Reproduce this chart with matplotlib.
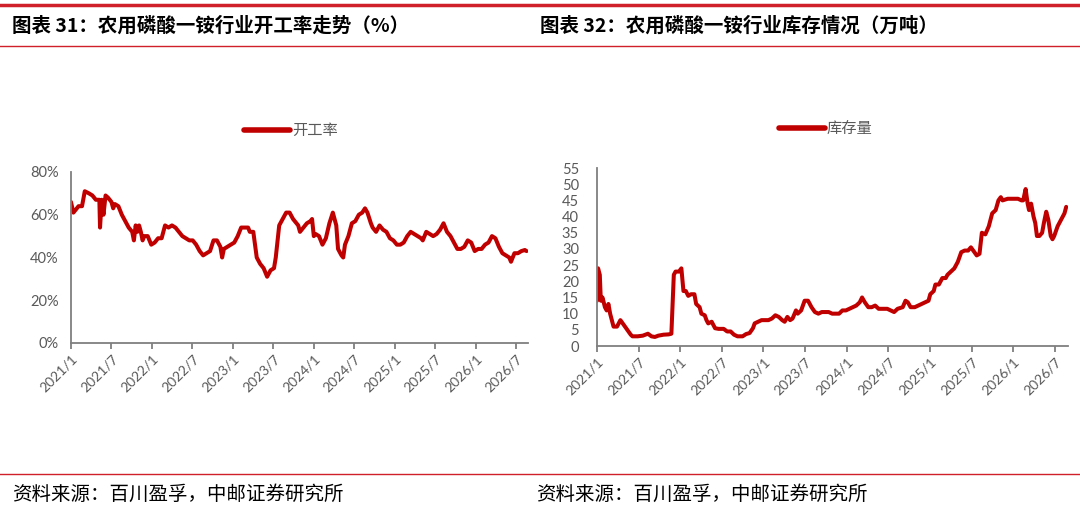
import matplotlib
matplotlib.use("Agg")
import matplotlib.pyplot as plt
from matplotlib.lines import Line2D

plt.rcParams["font.family"] = ["Lato", "Noto Sans CJK SC", "DejaVu Sans"]

RED = "#c00000"
GRAY = "#595959"

# x positions are months since 2021/1
tick_pos = [0, 6, 12, 18, 24, 30, 36, 42, 48, 54, 60, 66]
tick_labels = ["2021/1", "2021/7", "2022/1", "2022/7", "2023/1", "2023/7",
               "2024/1", "2024/7", "2025/1", "2025/7", "2026/1", "2026/7"]

# 开工率 (%)
rate_m = [0, 0.36, 0.87, 1.13, 1.64, 2.05, 2.67, 3.18, 3.69, 4.21, 4.31, 4.56,
          4.82, 5.13, 5.49, 6.0, 6.26, 6.51, 7.03, 7.54, 8.05, 8.56, 9.08, 9.33,
          9.59, 9.85, 10.1, 10.36, 10.62, 10.87, 11.38, 11.9, 12.41, 12.92, 13.44,
          13.95, 14.46, 14.97, 15.49, 16.0, 16.51, 17.03, 17.54, 18.05, 18.56,
          19.08, 19.59, 20.1, 20.62, 21.13, 21.64, 22.15, 22.41, 22.67, 23.18,
          23.69, 24.21, 24.72, 25.23, 25.74, 26.26, 26.51, 27.03, 27.54, 28.05,
          28.56, 29.08, 29.59, 30.1, 30.36, 30.87, 31.38, 31.9, 32.41, 32.92,
          33.18, 33.69, 33.95, 34.46, 34.97, 35.49, 35.74, 36.0, 36.26, 36.77,
          37.28, 37.79, 38.31, 38.82, 39.33, 39.59, 40.1, 40.36, 40.62, 41.13,
          41.64, 42.15, 42.67, 43.18, 43.59, 43.95, 44.46, 44.72, 45.23, 45.74,
          46.26, 46.77, 47.28, 47.79, 48.31, 48.82, 49.33, 49.85, 50.36, 50.87,
          51.38, 51.9, 52.15, 52.67, 53.18, 53.69, 54.21, 54.72, 55.23, 55.74,
          56.26, 56.77, 57.28, 57.79, 58.31, 58.82, 59.33, 59.85, 60.36, 60.87,
          61.38, 61.9, 62.41, 62.92, 63.44, 63.95, 64.46, 64.97, 65.23, 65.74,
          66.26, 66.77, 67.28, 67.54]
rate_v = [66, 61, 63, 64, 64, 71, 70, 69, 67, 67, 54, 67,
          60, 69, 68, 66, 63, 65, 64, 60, 57, 54, 52, 48,
          55, 52, 55, 52, 48, 50, 50, 46, 47, 49, 49,
          55, 54, 55, 54, 52, 50, 49, 48, 48, 46,
          43, 41, 42, 43, 48, 48, 45, 40, 44, 45,
          46, 47, 50, 54, 54, 54, 52, 52, 40, 37,
          35, 31, 34, 35, 40, 55, 58, 61, 61, 58,
          57, 55, 52, 54, 56, 57, 58, 50, 51, 50,
          46, 49, 56, 61, 55, 44, 41, 40, 46, 50,
          56, 57, 60, 61, 63, 61, 56, 54, 52, 55,
          53, 52, 49, 48, 46, 46, 47, 50, 52, 51,
          50, 49, 48, 52, 51, 50, 51, 53, 56, 52,
          50, 47, 44, 44, 45, 48, 47, 43, 44, 44,
          46, 47, 50, 49, 45, 42, 41, 40, 38, 42,
          42, 43, 43.5, 43]

# 库存量 (万吨)
stock_m = [0, 0.15, 0.4, 0.55, 0.79, 1.14, 1.39, 1.64, 1.89, 2.13, 2.38, 2.88,
           3.37, 3.87, 4.37, 4.86, 5.11, 5.86, 6.6, 7.34, 7.84, 8.34, 8.83, 9.58,
           10.32, 10.72, 11.07, 11.32, 11.81, 12.16, 12.46, 12.8, 13.15, 13.55,
           14.04, 14.29, 14.79, 15.04, 15.53, 15.78, 16.03, 16.53, 17.02, 17.52,
           18.26, 18.76, 19.26, 19.75, 20.25, 20.99, 21.49, 21.99, 22.48, 22.73,
           23.23, 23.72, 24.22, 24.71, 25.21, 25.71, 26.2, 26.7, 27.05, 27.44,
           27.84, 28.19, 28.68, 28.93, 29.43, 29.93, 30.42, 30.92, 31.41, 31.91,
           32.41, 32.9, 33.4, 33.9, 34.39, 34.89, 35.38, 35.88, 36.38, 36.87,
           37.37, 37.87, 38.21, 38.61, 39.11, 39.6, 40.1, 40.6, 41.09, 41.84,
           42.33, 42.83, 43.33, 44.07, 44.47, 44.81, 45.21, 45.81, 46.3, 46.8,
           47.3, 47.79, 48.04, 48.54, 48.78, 49.28, 49.78, 50.27, 50.52, 51.02,
           51.51, 52.01, 52.51, 53.0, 53.5, 53.9, 54.24, 54.74, 55.14, 55.48,
           55.98, 56.48, 56.97, 57.47, 57.87, 58.21, 58.46, 59.21, 59.95, 60.69,
           61.19, 61.44, 61.79, 62.08, 62.28, 62.58, 62.93, 63.18, 63.42, 63.77,
           64.17, 64.42, 64.76, 65.06, 65.41, 65.66, 65.91, 66.4, 66.9, 67.39,
           67.64]
stock_v = [14, 24, 22, 14, 15, 12, 11, 13, 10, 8, 6, 6,
           8, 6.5, 5, 3.5, 3, 3, 3.2, 3.8, 3, 2.8, 3.2, 3.5,
           3.6, 3.8, 22, 23, 23, 24, 17, 17, 15.5, 16,
           16, 13, 12, 10, 9.5, 8, 7, 7.5, 5.5, 5.3,
           5.3, 4.5, 4.5, 3.5, 3, 3, 3.7, 4, 5.5, 7,
           7.5, 8, 8, 8, 8.5, 9.5, 9, 8, 7.5, 9,
           8, 8.5, 11, 10, 11, 14, 14, 12, 10.5, 10,
           10.5, 10.5, 10.5, 10, 10, 10, 11, 11, 11.5, 12,
           12.5, 13.5, 15, 13.5, 12, 12, 12.5, 11.5, 11.5, 11.5,
           11, 10.5, 11.5, 12, 14, 13.5, 12, 12, 12.5, 13,
           13.5, 14, 16, 17, 19, 19, 21, 21, 22, 23,
           24, 26, 29, 29.5, 29.5, 30.5, 29.5, 28, 28.5, 35,
           34.5, 37, 41, 42, 45, 46, 45, 45.5, 45.5, 45.5,
           45, 45, 48.5, 44, 42, 44, 40, 38, 34, 34,
           35, 38, 41.5, 39, 34, 33, 34, 37, 39, 41,
           43]

fig = plt.figure(figsize=(10.8, 5.14), dpi=100)


def style_axes(ax, ypad):
    for s in ["top", "right"]:
        ax.spines[s].set_visible(False)
    for s in ["left", "bottom"]:
        ax.spines[s].set_color("#7f7f7f")
        ax.spines[s].set_linewidth(1.3)
    ax.set_xticks(tick_pos)
    ax.set_xticklabels(tick_labels, rotation=45, ha="right",
                       rotation_mode="anchor", fontsize=10, color=GRAY)
    ax.tick_params(axis="x", length=4, width=1.3, color="#7f7f7f", pad=3)
    ax.tick_params(axis="y", length=0, labelsize=10.5, labelcolor=GRAY, pad=ypad)


ax1 = fig.add_axes([0.0657, 0.3327, 0.4235, 0.3327])
ax1.plot(rate_m, rate_v, color=RED, linewidth=2.9, solid_joinstyle="round",
         solid_capstyle="round")
ax1.set_xlim(0, 67.8)
ax1.set_ylim(0, 80)
ax1.set_yticks([0, 20, 40, 60, 80])
ax1.set_yticklabels(["0%", "20%", "40%", "60%", "80%"])
style_axes(ax1, 9)

ax2 = fig.add_axes([0.5528, 0.3268, 0.4361, 0.3463])
ax2.plot(stock_m, stock_v, color=RED, linewidth=2.9, solid_joinstyle="round",
         solid_capstyle="round")
ax2.set_xlim(0, 67.9)
ax2.set_ylim(0, 55)
ax2.set_yticks(list(range(0, 56, 5)))
style_axes(ax2, 13)

# legends
h1 = [Line2D([], [], color=RED, linewidth=4, solid_capstyle="round")]
fig.legend(h1, ["开工率"], loc="center", bbox_to_anchor=(291 / 1080, 1 - 131 / 514),
           frameon=False, fontsize=11, handlelength=3.0, handletextpad=0.1,
           labelcolor=GRAY)
fig.legend(h1, ["库存量"], loc="center", bbox_to_anchor=(826 / 1080, 1 - 129 / 514),
           frameon=False, fontsize=11, handlelength=3.0, handletextpad=0.1,
           labelcolor=GRAY)

# header / footer rules
fig.add_artist(Line2D([0, 1], [1 - 5 / 514, 1 - 5 / 514], color="#d0202a", linewidth=2.5))
fig.add_artist(Line2D([0, 1], [1 - 46 / 514, 1 - 46 / 514], color="#d0202a", linewidth=1.0))
fig.add_artist(Line2D([0, 1], [1 - 474 / 514, 1 - 474 / 514], color="#d0202a", linewidth=1.0))

title_kw = dict(fontsize=14, fontweight="bold", color="black", va="center",
                family=["Noto Sans CJK SC", "DejaVu Sans"])
fig.text(12 / 1080, 1 - 26 / 514, "图表 31：农用磷酸一铵行业开工率走势（%）", **title_kw)
fig.text(540 / 1080, 1 - 26 / 514, "图表 32：农用磷酸一铵行业库存情况（万吨）", **title_kw)

src_kw = dict(fontsize=14, color="black", va="center",
              family=["Noto Sans CJK SC", "DejaVu Sans"])
fig.text(12 / 1080, 1 - 494 / 514, "资料来源：百川盈孚，中邮证券研究所", **src_kw)
fig.text(536 / 1080, 1 - 494 / 514, "资料来源：百川盈孚，中邮证券研究所", **src_kw)

fig.savefig("out.png", dpi=100)
plt.close(fig)
